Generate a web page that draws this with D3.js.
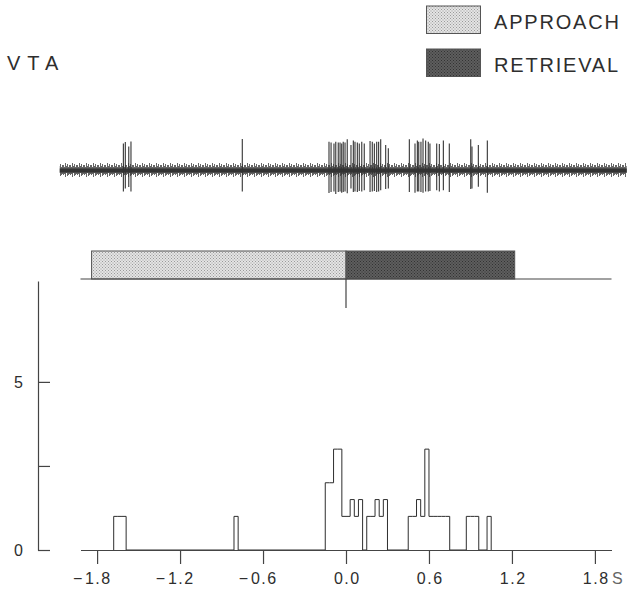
<!DOCTYPE html>
<html>
<head>
<meta charset="utf-8">
<script src="https://cdn.jsdelivr.net/npm/d3@7"></script>
<style>
	body { margin: 0; background: #fff; }
	svg { display: block; font-family: "Liberation Sans", Arial, Helvetica, sans-serif; }
</style>
</head>
<body>
<svg id="chart" width="629" height="590"></svg>
<script>

// time axis (s)
var timeTicks = [-1.8, -1.2, -0.6, 0, 0.6, 1.2, 1.8];
var countTicks = [0, 2.5, 5];

// behavioural events (s)
var eventNames = ['APPROACH', 'RETRIEVAL'];
var eventStart = [-1.84, 0];
var eventEnd = [0, 1.22];

// histogram, 30 ms bins: bin start (s) and value
var binWidth = 0.03;
var binStart = [-1.68, -1.65, -1.62, -0.81,
	-0.15, -0.12, -0.09, -0.06, -0.03, 0.00, 0.03, 0.06, 0.09, 0.12, 0.15, 0.18, 0.21, 0.24, 0.27,
	0.45, 0.48, 0.51, 0.54, 0.57, 0.60, 0.63, 0.66, 0.69, 0.72,
	0.87, 0.90, 0.93, 1.02];
var binValue = [1, 1, 1, 1,
	2, 2, 3, 3, 1, 1, 1.5, 1, 1.5, 0, 1, 1, 1.5, 1, 1.5,
	1, 1, 1.5, 1, 3, 1, 1, 1, 1, 1,
	1, 1, 1, 1];

// unit record: spike times (s) and amplitude above / below baseline
var spikeTime = [-1.610, -1.596, -1.571, -1.555,
	-0.750,
	-0.123, -0.108, -0.087, -0.074, -0.056, -0.043, -0.031, -0.020, -0.007, 0.009, 0.036, 0.053, 0.065,
	0.082, 0.096, 0.114, 0.132, 0.174, 0.190, 0.205, 0.222, 0.236, 0.251, 0.287, 0.306,
	0.458, 0.499, 0.516, 0.526, 0.542, 0.557, 0.576, 0.595, 0.607, 0.656, 0.675, 0.704, 0.747,
	0.902, 0.911, 0.957, 1.022];
var spikeUp = [0.9, 0.95, 0.8, 0.97,
	1.05,
	0.96, 0.93, 0.9, 0.96, 0.93, 0.93, 0.9, 0.96, 0.93, 1.04, 0.85, 1.0, 0.96,
	0.93, 0.9, 0.96, 0.9, 0.98, 0.96, 0.9, 0.96, 0.96, 1.04, 0.85, 0.74,
	1.04, 0.9, 1.0, 0.96, 0.96, 1.07, 1.0, 0.96, 0.9, 0.9, 0.88, 1.0, 0.9,
	1.04, 0.8, 0.85, 1.0];
var spikeDown = [0.7, 0.6, 0.55, 0.7,
	0.7,
	0.75, 0.72, 0.7, 0.78, 0.72, 0.7, 0.74, 0.72, 0.7, 0.76, 0.6, 0.72, 0.7,
	0.72, 0.68, 0.7, 0.66, 0.72, 0.7, 0.68, 0.72, 0.7, 0.66, 0.62, 0.6,
	0.72, 0.74, 0.7, 0.7, 0.72, 0.74, 0.7, 0.7, 0.68, 0.66, 0.7, 0.66, 0.72,
	0.62, 0.6, 0.54, 0.74];
var traceStart = -2.07, traceEnd = 2.03;

var svg = d3.select('#chart');

var x = d3.scaleLinear()
	.domain([-1.92, 1.92])
	.range([80.5, 611.5]);

var y = d3.scaleLinear()
	.domain([0, 8])
	.range([550, 281]);

var yTrace = d3.scaleLinear()
	.domain([-1, 1])
	.range([200.5, 140.5]);

var ink = '#2e2e2e';

// stipple patterns
var defs = svg.append('defs');

function stipple(id, bg, dot) {
	var p = defs.append('pattern')
		.attr('id', id)
		.attr('patternUnits', 'userSpaceOnUse')
		.attr('width', 3)
		.attr('height', 3);
	p.append('rect').attr('width', 3).attr('height', 3).attr('fill', bg);
	p.append('rect').attr('x', 0).attr('y', 0).attr('width', 1).attr('height', 1).attr('fill', dot);
	p.append('rect').attr('x', 1.5).attr('y', 1.5).attr('width', 1).attr('height', 1).attr('fill', dot);
}
stipple('fillApproach', '#e4e4e4', '#9a9a9a');
stipple('fillRetrieval', '#5e5e5e', '#333');

var fills = ['url(#fillApproach)', 'url(#fillRetrieval)'];

// noise texture for the record baseline
var noise = defs.append('pattern')
	.attr('id', 'noise')
	.attr('patternUnits', 'userSpaceOnUse')
	.attr('x', 0)
	.attr('y', 163)
	.attr('width', 7)
	.attr('height', 15);
[[0.5, 2, 12], [1.5, 4, 11], [2.5, 0, 14], [3.5, 3, 10], [4.5, 1, 13], [5.5, 4, 12], [6.5, 2, 11]].forEach(function(d) {
	noise.append('line')
		.attr('x1', d[0]).attr('x2', d[0])
		.attr('y1', d[1]).attr('y2', d[2])
		.attr('stroke', '#555')
		.attr('stroke-width', 0.9);
});

// legend
var legend = svg.append('g').attr('class', 'legend');
eventNames.forEach(function(name, i) {
	legend.append('rect')
		.attr('x', 426.5)
		.attr('y', i ? 49 : 6)
		.attr('width', 54)
		.attr('height', 27.5)
		.attr('fill', fills[i])
		.attr('stroke', '#555')
		.attr('stroke-width', 1);
	legend.append('text')
		.attr('x', 494)
		.attr('y', i ? 71.5 : 28.5)
		.style('font-size', '20px')
		.style('letter-spacing', '1.8px')
		.style('fill', ink)
		.text(name);
});

svg.append('text')
	.attr('x', 7)
	.attr('y', 69.5)
	.style('font-size', '20px')
	.style('letter-spacing', '7px')
	.style('fill', ink)
	.text('VTA');

// unit record
svg.append('rect')
	.attr('x', x(traceStart))
	.attr('y', 163)
	.attr('width', x(traceEnd) - x(traceStart))
	.attr('height', 15)
	.attr('fill', 'url(#noise)');

svg.append('line')
	.attr('x1', x(traceStart))
	.attr('x2', x(traceEnd))
	.attr('y1', yTrace(0))
	.attr('y2', yTrace(0))
	.attr('stroke', '#333')
	.attr('stroke-width', 4);

svg.append('g')
	.attr('class', 'spikes')
	.selectAll('line')
	.data(spikeTime)
	.enter().append('line')
	.attr('x1', function(d) { return x(d); })
	.attr('x2', function(d) { return x(d); })
	.attr('y1', function(d, i) { return yTrace(spikeUp[i]); })
	.attr('y2', function(d, i) { return yTrace(-spikeDown[i]); })
	.attr('stroke', '#333')
	.attr('stroke-width', 1.1);

// event bar
var barBase = 279, barTop = 251;

svg.append('g')
	.selectAll('rect')
	.data(eventNames)
	.enter().append('rect')
	.attr('x', function(d, i) { return x(eventStart[i]); })
	.attr('y', barTop)
	.attr('width', function(d, i) { return x(eventEnd[i]) - x(eventStart[i]); })
	.attr('height', barBase - barTop)
	.attr('fill', function(d, i) { return fills[i]; })
	.attr('stroke', '#555')
	.attr('stroke-width', 1);

svg.append('line')
	.attr('x1', x.range()[0]).attr('x2', x.range()[1])
	.attr('y1', barBase).attr('y2', barBase)
	.attr('stroke', '#444')
	.attr('stroke-width', 1.2);

svg.append('line')
	.attr('x1', x(0)).attr('x2', x(0))
	.attr('y1', barBase).attr('y2', 308)
	.attr('stroke', '#444')
	.attr('stroke-width', 1.2);

// histogram
var points = [{ t: binStart[0], v: 0 }];
binStart.forEach(function(s, i) {
	points.push({ t: s, v: binValue[i] });
	var next = binStart[i + 1];
	if (next === undefined || Math.abs(next - (s + binWidth)) > 1e-6) points.push({ t: s + binWidth, v: 0 });
});

var step = d3.line()
	.x(function(d) { return x(d.t); })
	.y(function(d) { return y(d.v); })
	.curve(d3.curveStepAfter);

svg.append('path')
	.attr('d', step(points))
	.attr('fill', 'none')
	.attr('stroke', ink)
	.attr('stroke-width', 1);

// axes
var fmt = d3.format('.1f');

var xAxis = d3.axisBottom(x)
	.tickValues(timeTicks)
	.tickSize(14)
	.tickSizeOuter(0)
	.tickPadding(9)
	.tickFormat(function(d) { return fmt(Math.abs(d)); });

var gx = svg.append('g')
	.attr('class', 'x axis')
	.attr('transform', 'translate(0,' + y(0) + ')')
	.call(xAxis);

var yAxis = d3.axisLeft(y)
	.tickValues(countTicks)
	.tickSize(-12)
	.tickSizeOuter(0)
	.tickPadding(15)
	.tickFormat(function(d) { return d === 2.5 ? '' : d; });

var gy = svg.append('g')
	.attr('class', 'y axis')
	.attr('transform', 'translate(38,0)')
	.call(yAxis);

svg.selectAll('.axis path, .axis line')
	.attr('stroke', '#444')
	.attr('stroke-width', 1.2);

svg.selectAll('.axis text')
	.style('font-size', '16px')
	.style('font-family', '"Liberation Sans", Arial, Helvetica, sans-serif')
	.attr('fill', ink);

gx.selectAll('.tick text')
	.style('letter-spacing', '1.5px')
	.attr('dx', '0.75px');

// hanging minus signs on negative ticks
gx.selectAll('.tick').each(function(d) {
	if (d >= 0) return;
	var label = d3.select(this).select('text');
	var w = label.node().getComputedTextLength();
	d3.select(this).append('text')
		.attr('x', -w / 2 - 2)
		.attr('y', label.attr('y'))
		.attr('dy', label.attr('dy'))
		.attr('fill', ink)
		.style('font-size', '16px')
		.style('text-anchor', 'end')
		.text('\u2212');
});

gx.append('text')
	.attr('x', x(1.8) + 17)
	.attr('y', 34)
	.style('font-size', '16px')
	.style('text-anchor', 'start')
	.attr('fill', '#666')
	.text('S');

</script>
</body>
</html>
